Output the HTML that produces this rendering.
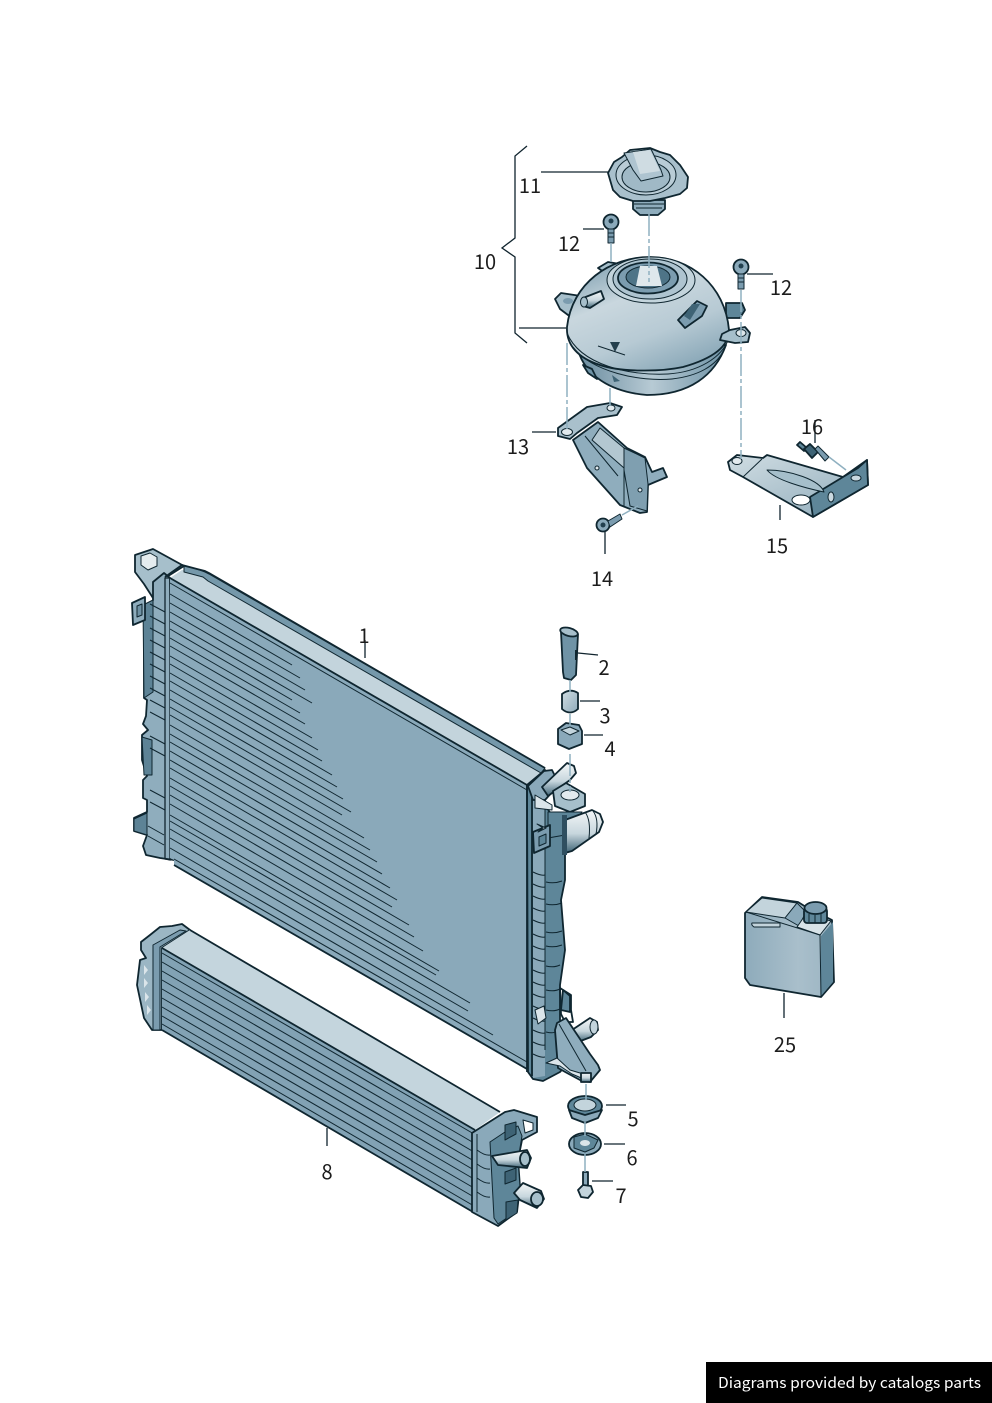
<!DOCTYPE html>
<html>
<head>
<meta charset="utf-8">
<style>
html,body{margin:0;padding:0;background:#fff}
svg{display:block}
.l{font-family:"Noto Sans CJK JP","Liberation Sans",sans-serif;font-size:20px;fill:#1c1c1c;text-anchor:middle}
.k{stroke:#10242e;stroke-width:1.3;fill:none}
.o{stroke:#0f2630;stroke-width:1.8;stroke-linejoin:round}
.t{stroke:#0f2630;stroke-width:1;stroke-linejoin:round}
.d{stroke:#8fb0c0;stroke-width:1.5;fill:none;stroke-dasharray:22 3 4 3}
</style>
</head>
<body>
<svg width="992" height="1403" viewBox="0 0 992 1403" xmlns="http://www.w3.org/2000/svg">
<defs>
<linearGradient id="dome" x1="0.2" y1="0.1" x2="0.7" y2="1">
<stop offset="0" stop-color="#8fabba"/><stop offset="0.3" stop-color="#c9d7de"/><stop offset="0.65" stop-color="#b7cad4"/><stop offset="1" stop-color="#8aa8b8"/>
</linearGradient>
<linearGradient id="low" x1="0" y1="0" x2="1" y2="0">
<stop offset="0" stop-color="#6a8c9f"/><stop offset="0.5" stop-color="#b7cad4"/><stop offset="1" stop-color="#6f93a6"/>
</linearGradient>
<linearGradient id="pipe" x1="0" y1="0" x2="0" y2="1">
<stop offset="0" stop-color="#f4f7f8"/><stop offset="0.55" stop-color="#c7d6dd"/><stop offset="1" stop-color="#3e6375"/>
</linearGradient>
<linearGradient id="jug" x1="0" y1="0" x2="1" y2="0">
<stop offset="0" stop-color="#8eabbb"/><stop offset="0.6" stop-color="#a9bfcb"/><stop offset="1" stop-color="#9bb4c2"/>
</linearGradient>
<linearGradient id="br" x1="0" y1="0" x2="1" y2="1">
<stop offset="0" stop-color="#d0dde3"/><stop offset="1" stop-color="#8fabba"/>
</linearGradient>
</defs>

<!-- RADIATOR 1 -->
<path class="o" fill="#a6bfcb" d="M135,555 L153,549 L184,566 L165,578 L160,590 L153,598 L144,584 L135,572 Z"/>
<path class="t" fill="#e4ecef" d="M141,556 L150,553 L157,557 L157,566 L148,570 L141,565 Z"/>
<path class="o" fill="#8fadbd" d="M153,582 L164,573 L170,578 L174,860 L160,858 L146,855 L143,846 L147,835 L134,831 L134,818 L147,812 L147,800 L143,798 L143,780 L147,776 L142,760 L142,735 L148,730 L143,724 L146,716 L147,700 L144,698 L144,620 L153,600 Z"/>
<path fill="#5d8396" class="t" d="M143,605 L153,600 L153,692 L144,698 Z"/>
<path fill="#5d8396" class="t" d="M142,737 L152,740 L152,775 L144,775 Z"/>
<path fill="#5d8396" class="t" d="M134,819 L147,813 L147,835 L134,831 Z"/>
<path fill="#8fadbd" class="o" d="M132,603 L145,597 L145,620 L133,625 Z"/>
<path class="t" fill="#6f92a4" d="M137,606 L142,604 L142,615 L137,617 Z"/>
<path class="t" fill="none" d="M150,604 l15,8 M150,616 l15,8 M150,628 l15,8 M150,640 l15,8 M150,652 l15,8 M150,664 l15,8 M150,676 l15,8 M150,688 l15,8 M150,700 l15,8 M150,712 l15,8 M150,736 l15,8 M150,748 l15,8 M150,790 l15,8 M150,802 l15,8 M148,826 l16,9 M148,836 l16,9"/>
<path class="k" fill="#6f93a6" d="M165,578 L165,859 L170,860 L170,578 Z"/>
<path fill="#8aa9ba" d="M170,578 L527,785 L527,1070 L174,866 L174,860 L170,858 Z"/>
<path fill="#c3d4dc" d="M170,578 L182,570 L205,572 L209,577 L545,770 L527,785 Z"/>
<path fill="#7598aa" class="t" d="M184,566 L197,569 L205,572 L209,574 L545,768 L541,773 L208,581 L203,577 L184,572 Z"/>
<path class="o" fill="none" d="M165,577 L182,565 L197,569 L205,571 L209,573 L545,768"/>
<path class="o" fill="none" d="M170,578 L527,785"/>
<path class="t" fill="none" d="M170,583 L527,790 M170,594 L292,665 M170,603 L300,678 M170,612 L305,690 M170,621 L312,703 M170,629 L292,700 M170,638 L300,713 M170,646 L305,724 M170,656 L312,738 M170,664 L318,750 M170,673 L322,761 M170,681 L332,775 M170,690 L337,787 M170,699 L343,799 M170,707 L351,812 M170,715 L342,815 M170,725 L364,838 M170,734 L370,850 M170,742 L377,862 M170,751 L382,874 M170,760 L390,888 M170,768 L397,900 M170,778 L392,907 M170,786 L409,925 M170,795 L414,937 M170,804 L423,951 M170,815 L439,971 M170,821 L436,975 M170,829 L470,1003 M170,838 L468,1011 M170,848 L493,1035 M174,859 L527,1062"/>
<path class="o" fill="none" d="M174,865 L527,1069"/>

<!-- right tank -->
<path fill="#5e8699" class="o" d="M545,805 L565,835 L565,880 L561,900 L565,950 L560,985 L560,1020 L570,1060 L560,1072 L543,1081 L533,1079 L528,1072 L527,785 L545,770 Z"/>
<path fill="#8aa9ba" d="M533,798 L545,800 L545,1076 L533,1078 Z"/>
<path class="o" fill="none" d="M527,785 L527,1072 M532,790 L532,1076"/>
<path class="t" fill="none" d="M533,872 q8,4 12,3 M533,884 q8,4 12,3 M533,896 q8,4 12,3 M533,908 q8,4 12,3 M533,920 q8,4 12,3 M533,934 q8,4 12,3 M533,946 q8,4 12,3 M533,958 q8,4 12,3 M533,970 q8,4 12,3 M533,982 q8,4 12,3 M533,994 q8,4 12,3 M533,1006 q8,4 12,3 M533,1018 q8,4 12,3 M533,1030 q8,4 12,3 M533,1042 q8,4 12,3 M533,1054 q8,4 12,3 M546,882 q8,2 16,-1 M546,904 q8,2 16,-1 M546,932 q8,2 16,-1 M546,946 q8,2 16,-1 M546,966 q8,2 14,-1 M546,990 q8,2 14,-1 M546,1010 q8,2 14,-1 M546,1032 q8,2 10,-1 M545,800 L545,1050"/>
<path class="o" fill="#8aa9ba" d="M528,786 L544,771 L552,770 L556,778 L554,790 L545,800 L533,800 Z"/>
<path class="o" fill="url(#pipe)" d="M542,787 L567,763 L574,766 L576,773 L570,780 L548,796 Z"/>
<path class="o" fill="#a6bfcb" d="M553,791 L566,783 L585,794 L585,806 L570,812 L555,806 Z"/>
<ellipse cx="570" cy="795" rx="9" ry="5" fill="#e2eaee" class="t"/>
<path class="t" fill="#dbe5ea" d="M535,795 L552,805 L552,810 L535,808 Z"/>
<path fill="#5e8699" class="t" d="M548,812 L582,812 L565,835 L548,838 Z"/>
<path class="o" fill="#7b9caf" d="M533,832 L550,825 L550,846 L534,853 Z"/>
<path class="t" fill="#5e8699" d="M539,837 L546,834 L546,843 L539,846 Z"/>
<path class="t" fill="#dbe5ea" d="M537,824 L546,828 L538,832 L543,828 Z"/>
<path class="o" fill="url(#pipe)" d="M565,820 L592,810 L600,814 L603,822 L599,832 L572,851 L565,853 Z"/>
<path class="t" fill="none" d="M585,812 q6,8 4,26 M593,811 q6,8 3,23"/>
<path fill="#2f4f60" d="M562,815 L567,815 L567,855 L562,855 Z"/>
<!-- bottom bracket -->
<path class="o" fill="#fff" d="M560,988 L571,995 L571,1010 L573,1022 L565,1022 L561,1014 Z"/>
<path class="o" fill="#5e8699" d="M563,990 L570,996 L570,1012 L561,1010 Z"/>
<path class="o" fill="url(#pipe)" d="M572,1030 L590,1018 L597,1022 L598,1030 L591,1037 L578,1042 Z"/>
<ellipse cx="594" cy="1027" rx="4" ry="7" fill="#c3d4dc" class="t"/>
<path class="o" fill="#8fadbd" d="M557,1023 L566,1018 L590,1054 L598,1065 L600,1070 L590,1082 L580,1080 L567,1073 L558,1068 L555,1030 Z"/>
<path class="t" fill="#dbe5ea" d="M546,1063 L557,1058 L570,1070 L590,1076 L586,1080 L572,1074 L560,1066 Z"/>
<path class="t" fill="none" d="M559,1024 L586,1071"/>
<path class="o" fill="url(#pipe)" d="M581,1073 L591,1073 L591,1082 L581,1082 Z"/>
<path class="t" fill="#dbe5ea" d="M535,1010 L544,1006 L546,1018 L538,1024 Z"/>

<!-- INTERCOOLER 8 -->
<path class="o" fill="#9bb6c4" d="M141,942 L150,935 L160,927 L172,926 L182,924 L190,930 L162,948 L162,1030 L152,1030 L144,1018 L137,985 L140,960 L146,958 L141,950 Z"/>
<path fill="#dbe5ea" d="M144,965 l4,5 l-4,5 z M144,978 l4,5 l-4,5 z M145,992 l4,5 l-4,5 z M147,1005 l4,5 l-4,5 z"/>
<path class="t" fill="#7b9caf" d="M153,945 L180,930 L186,931 L160,947 L160,1030 L153,1030 Z"/>
<path fill="#c4d5dd" d="M162,948 L190,930 L500,1112 L475,1130 Z"/>
<path fill="#82a2b4" d="M162,948 L475,1130 L473,1212 L162,1030 Z"/>
<path class="o" fill="none" d="M190,930 L500,1112 M162,948 L475,1130 M162,1030 L473,1212"/>
<path class="t" fill="none" d="M162,953 L474,1134 M162,962 L474,1143 M162,971 L474,1152 M162,980 L474,1161 M162,989 L474,1170 M162,998 L474,1179 M162,1007 L474,1188 M162,1016 L474,1197 M162,1024 L474,1206"/>
<!-- right tank of 8 -->
<path class="o" fill="#8aa9ba" d="M472,1133 L505,1112 L514,1110 L537,1117 L537,1132 L522,1140 L518,1160 L520,1187 L517,1212 L498,1226 L472,1212 Z"/>
<path class="t" fill="#5e8699" d="M490,1142 L505,1132 L518,1126 L522,1136 L518,1160 L520,1187 L517,1211 L498,1224 L494,1218 Z"/>
<path class="t" fill="#fff" d="M523,1120 L533,1123 L533,1130 L525,1133 Z"/>
<path class="t" fill="none" d="M477,1150 q8,6 13,5 M477,1164 q8,6 13,5 M477,1178 q8,6 13,5 M477,1192 q8,6 13,5 M477,1134 L477,1212"/>
<path class="t" fill="#3e6375" d="M506,1202 L518,1200 L517,1213 L506,1220 Z"/>
<path class="t" fill="#3e6375" d="M505,1125 L516,1122 L516,1134 L505,1140 Z"/>
<path class="t" fill="#3e6375" d="M505,1172 L516,1168 L516,1180 L505,1184 Z"/>
<path class="o" fill="url(#pipe)" d="M492,1156 L527,1150 L531,1158 L527,1168 L498,1165 Z"/>
<ellipse cx="525" cy="1159" rx="5" ry="7" fill="#a6bfcb" class="o"/>
<path class="o" fill="url(#pipe)" d="M514,1193 L523,1183 L541,1191 L544,1199 L537,1208 L520,1200 Z"/>
<ellipse cx="537" cy="1199" rx="6" ry="7" fill="#a6bfcb" class="o"/>

<!-- PARTS 2 3 4 -->
<path class="o" fill="#6f93a6" d="M561,632 L569,629 L578,634 L576,675 L571,680 L564,678 L563,672 Z"/>
<ellipse cx="569" cy="632" rx="9" ry="4" transform="rotate(15 569 632)" fill="#a6bfcb" class="o"/>
<path d="M575,650 L577,650 L577,660 L575,660 Z" fill="#0f2630"/>
<path class="o" fill="url(#br)" d="M562,694 Q570,688 578,693 L578,709 Q570,716 562,709 Z"/>
<path class="o" fill="#8aa9ba" d="M558,729 L566,723 L579,725 L582,731 L582,744 L569,749 L558,744 Z"/>
<path class="t" fill="#c3d4dc" d="M561,730 L570,727 L579,731 L570,735 Z"/>

<!-- PARTS 5 6 7 -->
<ellipse cx="585" cy="1106" rx="17" ry="10" fill="#5e8699" class="o"/>
<path class="o" fill="#8aa9ba" d="M569,1110 L572,1118 L585,1123 L598,1118 L602,1110 L585,1115 Z"/>
<ellipse cx="585" cy="1105" rx="11" ry="6" fill="#c3d4dc" class="t"/>
<ellipse cx="585" cy="1144" rx="16" ry="11" fill="#8aa9ba" class="o"/>
<path class="t" fill="#5e8699" d="M574,1137 L585,1134 L598,1140 L594,1148 L585,1152 L574,1148 Z"/>
<ellipse cx="585" cy="1143" rx="5" ry="3" fill="#dbe5ea"/>
<path class="o" fill="#8aa9ba" d="M583,1172 L588,1172 L588,1186 L583,1186 Z"/>
<path class="o" fill="#c3d4dc" d="M578,1190 L583,1185 L591,1186 L593,1192 L588,1198 L581,1197 Z"/>

<!-- CAP 11 -->
<path class="o" fill="#8fadbd" d="M633,200 L665,200 L665,209 L658,215 L640,215 L633,209 Z"/>
<path class="t" fill="none" d="M634,204 H664 M636,208 H662"/>
<path class="o" fill="#a9c0cc" d="M608,173 L614,162 L622,157 L630,150 L650,148 L660,152 L670,155 L680,165 L688,177 L687,188 L680,194 L665,198 L650,201 L633,201 L620,197 L613,190 Z"/>
<ellipse cx="646" cy="175" rx="30" ry="20" fill="#b9ccd6" class="t"/>
<ellipse cx="646" cy="177" rx="24" ry="15" fill="#a0b9c6" class="t"/>
<path class="t" fill="#aec4d0" d="M624,153 L638,151 L651,149 L661,170 L663,176 L641,181 L633,170 Z"/>
<path fill="#cfdce2" d="M633,152 L650,150 L660,171 L640,174 Z"/>

<!-- TANK -->
<path class="o" fill="#a6bfcb" d="M555,299 L561,293 L581,296 L586,305 L572,318 L560,309 Z"/>
<ellipse cx="568" cy="301" rx="5" ry="3" fill="#7b9caf"/>
<path class="o" fill="#5e8699" d="M726,303 L742,303 L745,310 L740,318 L726,318 Z"/>
<path class="o" fill="#a6bfcb" d="M598,268 L608,262 L620,264 L608,275 Z"/>
<path class="o" fill="url(#low)" d="M578,350 C585,375 610,392 647,395 C690,395 715,375 726,345 Z"/>
<path class="o" fill="#6f93a6" d="M583,365 L588,373 L597,379 L592,369 Z"/>
<path class="o" fill="url(#dome)" d="M567,327 C572,283 610,257 650,257 C690,257 725,285 729,330 C729,345 715,358 683,367 C660,372 620,372 600,365 C578,358 566,345 567,327 Z"/>
<path class="t" fill="none" d="M567,333 C580,365 630,376 668,374 C698,372 722,358 729,338"/>
<path class="t" fill="none" d="M573,347 C592,372 640,382 672,379 C698,376 716,366 724,350"/>
<path class="o" fill="#a6bfcb" d="M722,334 L730,330 L745,327 L750,333 L748,342 L735,343 L720,340 Z"/>
<ellipse cx="741" cy="333" rx="5" ry="3.5" fill="#dce6ea" class="t"/>
<ellipse cx="651" cy="280" rx="44" ry="23" fill="#c3d4dc" class="t"/>
<ellipse cx="650" cy="279" rx="37" ry="20" fill="#aec4d0" class="t"/>
<ellipse cx="648" cy="278" rx="30" ry="15.5" fill="#7b9caf" class="o"/>
<ellipse cx="648" cy="277" rx="22" ry="11" fill="#4e7487" class="t"/>
<path d="M640,266 L657,266 L662,286 L636,286 Z" fill="#dfe8ec"/>
<path class="o" fill="url(#pipe)" d="M583,298 L601,291 L604,299 L590,308 L583,306 Z"/>
<ellipse cx="584" cy="302" rx="3.5" ry="5" fill="#a6bfcb" class="t"/>
<path class="o" fill="#7b9caf" d="M678,320 L697,301 L707,306 L702,316 L685,328 Z"/>
<path fill="#3e6375" d="M692,304 L700,304 L690,320 L684,316 Z"/>
<path fill="#243f4d" d="M610,342 L620,342 L615,352 Z"/>
<path class="t" d="M598,346 L625,355" fill="none"/>
<path fill="#3e6375" d="M612,375 L620,381 L614,382 Z"/>

<!-- BRACKET 13 -->
<path class="o" fill="#8fadbd" d="M573,440 L598,422 L627,448 L645,457 L652,472 L663,468 L667,477 L655,482 L648,485 L647,512 L640,513 L620,505 L587,468 Z"/>
<path class="t" fill="#b3c7d1" d="M600,428 L624,448 L624,468 L592,440 Z"/>
<path class="t" fill="#7f9fb0" d="M624,448 L645,458 L648,484 L647,511 L630,506 L624,470 Z"/>
<path class="t" fill="none" d="M624,448 L624,506 M585,436 L618,476"/>
<path class="o" fill="#a9c0cc" d="M558,436 L558,428 L587,407 L610,403 L622,407 L617,415 L598,418 L577,433 L570,439 Z"/>
<ellipse cx="567" cy="432" rx="5.5" ry="3.5" fill="#e2eaee" class="t"/>
<ellipse cx="611" cy="408" rx="4" ry="3" fill="#e2eaee" class="t"/>
<circle cx="597" cy="468" r="2" fill="#dfe8ec" class="t"/>
<circle cx="640" cy="490" r="2" fill="#dfe8ec" class="t"/>

<!-- BRACKET 15 -->
<path class="o" fill="url(#br)" d="M728,462 L737,455 L763,458 L767,455 L843,477 L867,460 L868,485 L813,517 L743,477 L730,470 Z"/>
<path class="o" fill="#5e8699" d="M810,497 L843,477 L858,468 L867,460 L868,485 L813,517 Z"/>
<path class="t" fill="none" d="M743,477 L762,459"/>
<path class="t" fill="#a6bfcb" d="M767,470 C790,470 820,480 824,492 C805,488 775,480 767,470 Z"/>
<ellipse cx="801" cy="500" rx="9" ry="5" fill="#fff" class="t"/>
<ellipse cx="737" cy="461" rx="5" ry="3.5" fill="#e2eaee" class="t"/>
<ellipse cx="831" cy="497" rx="3" ry="5" fill="#cad9e0" class="t"/>
<ellipse cx="856" cy="478" rx="5" ry="3" fill="#cad9e0" class="t"/>

<!-- screws -->
<circle cx="611" cy="222" r="7.5" fill="#8aa9ba" class="o"/><circle cx="611" cy="221" r="2.5" fill="#22404f"/>
<rect x="608" y="229" width="6" height="14" fill="#7b9caf" class="t"/>
<path class="t" fill="none" d="M608,233 h6 M608,237 h6"/>
<circle cx="741" cy="267" r="7.5" fill="#8aa9ba" class="o"/><circle cx="741" cy="266" r="2.5" fill="#22404f"/>
<rect x="738" y="274" width="6" height="15" fill="#7b9caf" class="t"/>
<path class="t" fill="none" d="M738,278 h6 M738,282 h6"/>
<circle cx="603" cy="525" r="6.5" fill="#8aa9ba" class="o"/><circle cx="603" cy="525" r="2.5" fill="#22404f"/>
<path class="t" fill="#7b9caf" d="M608,521 L620,514 L622,519 L610,527 Z"/>
<path class="o" fill="#5e8699" d="M797,445 L800,442 L807,448 L804,451 Z"/>
<path class="o" fill="#3e6375" d="M804,449 L810,444 L818,452 L812,458 Z"/>
<path class="t" fill="#7b9caf" d="M815,449 L818,446 L829,457 L825,461 Z"/>

<!-- JUG 25 -->
<path class="o" fill="url(#jug)" d="M745,913 L762,897 L798,902 L806,907 L832,920 L834,982 L821,997 L750,985 L745,978 Z"/>
<path fill="#c3d4dc" class="t" d="M746,912 L762,898 L797,903 L785,918 Z"/>
<path fill="#8aa9ba" class="t" d="M785,918 L797,903 L806,912 L799,926 Z"/>
<path fill="#d8e3e8" class="t" d="M797,927 L806,914 L831,921 L820,935 Z"/>
<path fill="#5e8699" d="M821,936 L833,922 L833,982 L821,996 Z"/>
<path class="t" fill="none" d="M746,912 L820,935 L821,997"/>
<rect x="804" y="908" width="23" height="15" rx="3" fill="#5e8699" class="o"/>
<ellipse cx="815.500" cy="908" rx="11" ry="6" fill="#7b9caf" class="o"/>
<path class="t" fill="none" d="M809,914 v8 M815,915 v8 M821,914 v8"/>
<path class="t" fill="#c3d4dc" d="M752,923 h28 v4 h-26 q-3,-2 -2,-4 z"/>

<!-- dash-dot connectors -->
<path class="d" d="M649,214 V282"/>
<path class="d" d="M611,243 V262"/>
<path class="d" d="M567,343 V430"/>
<path class="d" d="M741,290 V459"/>
<path class="d" d="M610,388 V406"/>
<path class="d" d="M622,515 L638,506"/>
<path class="d" d="M829,457 L846,470"/>
<path class="d" d="M570,680 V692"/>
<path class="d" d="M570,714 V726"/>
<path class="d" d="M570,754 V792"/>
<path class="d" d="M586,1084 V1100"/>
<path class="d" d="M585,1122 V1136"/>
<path class="d" d="M585,1154 V1172"/>

<!-- leaders -->
<path class="k" d="M527,146 L515,156 L515,238 L502,248 L515,257 L515,333 L527,343"/>
<path class="k" d="M519,328 H566 M541,172 H608 M583,229 H604 M747,274 H773 M532,432 H556 M605,532 V554 M780,505 V520 M815,420 V443 M784,993 V1018 M365,640 V658 M578,653 L598,655 M580,701 H600 M584,735 H603 M606,1105 H626 M604,1144 H625 M592,1181 H613 M327,1128 V1146"/>

<!-- labels -->
<text class="l" x="364" y="643">1</text>
<text class="l" x="604" y="675">2</text>
<text class="l" x="605" y="723">3</text>
<text class="l" x="610" y="756">4</text>
<text class="l" x="633" y="1126">5</text>
<text class="l" x="632" y="1165">6</text>
<text class="l" x="621" y="1203">7</text>
<text class="l" x="327" y="1179">8</text>
<text class="l" x="485" y="269">10</text>
<text class="l" x="530" y="193">11</text>
<text class="l" x="569" y="251">12</text>
<text class="l" x="781" y="295">12</text>
<text class="l" x="518" y="454">13</text>
<text class="l" x="602" y="586">14</text>
<text class="l" x="777" y="553">15</text>
<text class="l" x="812" y="434">16</text>
<text class="l" x="785" y="1052">25</text>

<!-- footer -->
<rect x="706" y="1362" width="286" height="41" fill="#000"/>
<text x="718" y="1388" font-family="'Noto Sans CJK JP','Liberation Sans',sans-serif" font-size="15" fill="#fff" textLength="263" lengthAdjust="spacingAndGlyphs">Diagrams provided by catalogs parts</text>
</svg>
</body>
</html>
